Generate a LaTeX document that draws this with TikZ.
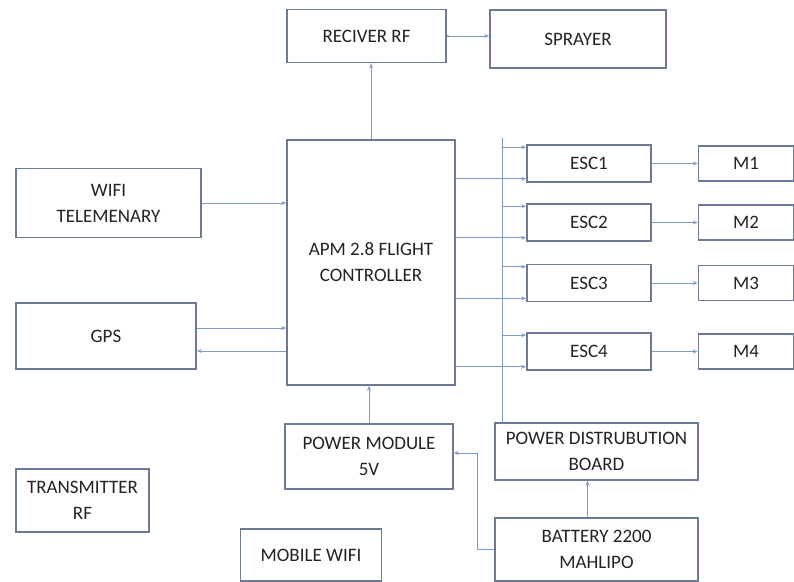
\documentclass[tikz,border=0pt]{standalone}
\usepackage{fontspec}
\setmainfont{Carlito}
\usetikzlibrary{arrows.meta}

\definecolor{boxline}{RGB}{108,122,152}
\definecolor{linkline}{RGB}{128,154,196}
\definecolor{labeltext}{RGB}{35,35,35}

\tikzset{
    box/.style 2 args={draw=boxline, line width=1.6pt, fill=white, text=labeltext,
        minimum width=#1, minimum height=#2, inner sep=0pt, align=center,
        font=\fontsize{19}{26}\selectfont},
    link/.style={draw=linkline, line width=1pt, -{Stealth[length=5pt,width=4pt]}}
}

\begin{document}
\begin{tikzpicture}[x=1pt, y=-1pt]
\useasboundingbox (0,0) rectangle (794,581);

% Top row
\node[box={159pt}{53pt}] (rx) at (366.5,36) {RECIVER RF};
\node[box={176pt}{58pt}] (spray) at (578,39) {SPRAYER};

% Flight controller and inputs
\node[box={168pt}{245pt}] (fc) at (371,262.5) {APM 2.8 FLIGHT\\CONTROLLER};
\node[box={185pt}{69pt}] (wifi) at (108.5,203) {WIFI\\TELEMENARY};
\node[box={180pt}{66pt}] (gps) at (106,336) {GPS};

% ESCs and motors
\foreach \i/\y in {1/163.5, 2/222.5, 3/283, 4/351.5} {
    \node[box={124pt}{37pt}] (esc\i) at (589,\y) {ESC\i};
    \node[box={95pt}{35pt}] (m\i) at (746,\y) {M\i};
}

% Power section
\node[box={168pt}{65pt}] (pm) at (369,456.5) {POWER MODULE\\5V};
\node[box={203pt}{57pt}] (pdb) at (596.5,451.5) {POWER DISTRUBUTION\\BOARD};
\node[box={203pt}{63pt}] (bat) at (596.5,549.5) {BATTERY 2200\\MAHLIPO};

% Loose boxes
\node[box={133pt}{63pt}] (tx) at (82.5,500.5) {TRANSMITTER\\RF};
\node[box={141pt}{52pt}] (mob) at (311,555) {MOBILE WIFI};

% Connectors
\draw[link] (fc.north) -- (fc.north |- rx.south);
\draw[link, {Circle[length=2pt]}-{Stealth[length=5pt,width=4pt]}] (rx.east) -- (rx.east -| spray.west);
\draw[link] (wifi.east) -- (wifi.east -| fc.west);
\draw[link] ([yshift=8pt]gps.east) -- ([yshift=8pt]gps.east -| fc.west);
\draw[link] ([yshift=-15pt]gps.east -| fc.west) -- ([yshift=-15pt]gps.east);

% Power bus
\coordinate (busT) at (502,138);
\draw[draw=linkline, line width=1pt] (busT) -- (busT |- pdb.north);
\foreach \i in {1,...,4} {
    \coordinate (e\i t) at ([yshift=-3pt]esc\i.north west);
    \coordinate (e\i b) at ([yshift=4pt]esc\i.south west);
    \draw[link] (busT |- e\i t) -- (e\i t);
    \draw[link] (fc.east |- e\i b) -- (e\i b);
    \draw[link] (esc\i.east) -- (esc\i.east -| m\i.west);
}

\draw[link] (pm.north) -- (pm.north |- fc.south);
\draw[link] ([xshift=-9pt]bat.north) -- ([xshift=-9pt]pdb.south);
\coordinate (jog) at (477,453);
\draw[link] (bat.west) -| (jog) -- (jog -| pm.east);

\end{tikzpicture}
\end{document}
